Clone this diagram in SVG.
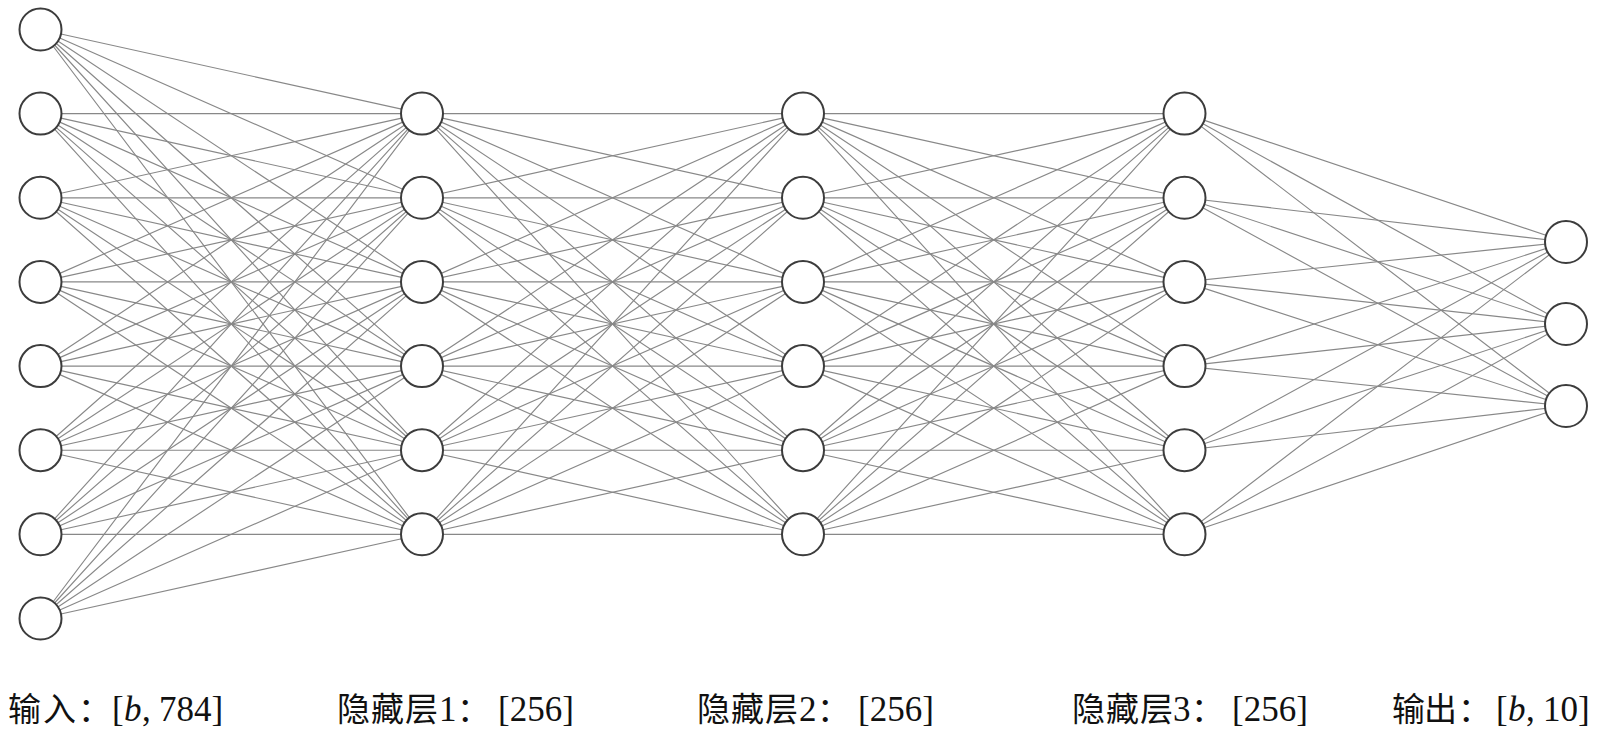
<svg xmlns="http://www.w3.org/2000/svg" width="1599" height="735" viewBox="0 0 1599 735">
  <style>
    .edge { fill: none; stroke: #888888; stroke-width: 1.15; }
    .neuron { fill: #ffffff; stroke: #3c3c3c; stroke-width: 2; }
    .cjk { font-family: "Noto Sans CJK SC", "Noto Sans CJK JP", sans-serif; font-size: 33px; fill: #111111; }
    .num { font-family: "Liberation Serif", "DejaVu Serif", serif; font-size: 35px; fill: #111111; }
    .var { font-style: italic; }
  </style>
  <rect x="0" y="0" width="1599" height="735" fill="#ffffff"/>

  <!-- Fully connected weights between consecutive layers -->
  <g id="connectors">
    <!-- input (8) to hidden layer 1 (6) -->
    <path class="edge" d="M40.5 29.5L422 113.6M40.5 29.5L422 197.8M40.5 29.5L422 281.9M40.5 29.5L422 366.1M40.5 29.5L422 450.2M40.5 29.5L422 534.3"/>
    <path class="edge" d="M40.5 113.6L422 113.6M40.5 113.6L422 197.8M40.5 113.6L422 281.9M40.5 113.6L422 366.1M40.5 113.6L422 450.2M40.5 113.6L422 534.3"/>
    <path class="edge" d="M40.5 197.8L422 113.6M40.5 197.8L422 197.8M40.5 197.8L422 281.9M40.5 197.8L422 366.1M40.5 197.8L422 450.2M40.5 197.8L422 534.3"/>
    <path class="edge" d="M40.5 281.9L422 113.6M40.5 281.9L422 197.8M40.5 281.9L422 281.9M40.5 281.9L422 366.1M40.5 281.9L422 450.2M40.5 281.9L422 534.3"/>
    <path class="edge" d="M40.5 366.1L422 113.6M40.5 366.1L422 197.8M40.5 366.1L422 281.9M40.5 366.1L422 366.1M40.5 366.1L422 450.2M40.5 366.1L422 534.3"/>
    <path class="edge" d="M40.5 450.2L422 113.6M40.5 450.2L422 197.8M40.5 450.2L422 281.9M40.5 450.2L422 366.1M40.5 450.2L422 450.2M40.5 450.2L422 534.3"/>
    <path class="edge" d="M40.5 534.3L422 113.6M40.5 534.3L422 197.8M40.5 534.3L422 281.9M40.5 534.3L422 366.1M40.5 534.3L422 450.2M40.5 534.3L422 534.3"/>
    <path class="edge" d="M40.5 618.5L422 113.6M40.5 618.5L422 197.8M40.5 618.5L422 281.9M40.5 618.5L422 366.1M40.5 618.5L422 450.2M40.5 618.5L422 534.3"/>

    <!-- hidden layer 1 to hidden layer 2 -->
    <path class="edge" d="M422 113.6L803 113.6M422 113.6L803 197.8M422 113.6L803 281.9M422 113.6L803 366.1M422 113.6L803 450.2M422 113.6L803 534.3"/>
    <path class="edge" d="M422 197.8L803 113.6M422 197.8L803 197.8M422 197.8L803 281.9M422 197.8L803 366.1M422 197.8L803 450.2M422 197.8L803 534.3"/>
    <path class="edge" d="M422 281.9L803 113.6M422 281.9L803 197.8M422 281.9L803 281.9M422 281.9L803 366.1M422 281.9L803 450.2M422 281.9L803 534.3"/>
    <path class="edge" d="M422 366.1L803 113.6M422 366.1L803 197.8M422 366.1L803 281.9M422 366.1L803 366.1M422 366.1L803 450.2M422 366.1L803 534.3"/>
    <path class="edge" d="M422 450.2L803 113.6M422 450.2L803 197.8M422 450.2L803 281.9M422 450.2L803 366.1M422 450.2L803 450.2M422 450.2L803 534.3"/>
    <path class="edge" d="M422 534.3L803 113.6M422 534.3L803 197.8M422 534.3L803 281.9M422 534.3L803 366.1M422 534.3L803 450.2M422 534.3L803 534.3"/>

    <!-- hidden layer 2 to hidden layer 3 -->
    <path class="edge" d="M803 113.6L1184.5 113.6M803 113.6L1184.5 197.8M803 113.6L1184.5 281.9M803 113.6L1184.5 366.1M803 113.6L1184.5 450.2M803 113.6L1184.5 534.3"/>
    <path class="edge" d="M803 197.8L1184.5 113.6M803 197.8L1184.5 197.8M803 197.8L1184.5 281.9M803 197.8L1184.5 366.1M803 197.8L1184.5 450.2M803 197.8L1184.5 534.3"/>
    <path class="edge" d="M803 281.9L1184.5 113.6M803 281.9L1184.5 197.8M803 281.9L1184.5 281.9M803 281.9L1184.5 366.1M803 281.9L1184.5 450.2M803 281.9L1184.5 534.3"/>
    <path class="edge" d="M803 366.1L1184.5 113.6M803 366.1L1184.5 197.8M803 366.1L1184.5 281.9M803 366.1L1184.5 366.1M803 366.1L1184.5 450.2M803 366.1L1184.5 534.3"/>
    <path class="edge" d="M803 450.2L1184.5 113.6M803 450.2L1184.5 197.8M803 450.2L1184.5 281.9M803 450.2L1184.5 366.1M803 450.2L1184.5 450.2M803 450.2L1184.5 534.3"/>
    <path class="edge" d="M803 534.3L1184.5 113.6M803 534.3L1184.5 197.8M803 534.3L1184.5 281.9M803 534.3L1184.5 366.1M803 534.3L1184.5 450.2M803 534.3L1184.5 534.3"/>

    <!-- hidden layer 3 to output (3) -->
    <path class="edge" d="M1184.5 113.6L1566 242M1184.5 113.6L1566 324M1184.5 113.6L1566 406"/>
    <path class="edge" d="M1184.5 197.8L1566 242M1184.5 197.8L1566 324M1184.5 197.8L1566 406"/>
    <path class="edge" d="M1184.5 281.9L1566 242M1184.5 281.9L1566 324M1184.5 281.9L1566 406"/>
    <path class="edge" d="M1184.5 366.1L1566 242M1184.5 366.1L1566 324M1184.5 366.1L1566 406"/>
    <path class="edge" d="M1184.5 450.2L1566 242M1184.5 450.2L1566 324M1184.5 450.2L1566 406"/>
    <path class="edge" d="M1184.5 534.3L1566 242M1184.5 534.3L1566 324M1184.5 534.3L1566 406"/>
  </g>

  <!-- Input layer -->
  <g id="in0"><circle class="neuron" cx="40.5" cy="29.5" r="21"/></g>
  <g id="in1"><circle class="neuron" cx="40.5" cy="113.6" r="21"/></g>
  <g id="in2"><circle class="neuron" cx="40.5" cy="197.8" r="21"/></g>
  <g id="in3"><circle class="neuron" cx="40.5" cy="281.9" r="21"/></g>
  <g id="in4"><circle class="neuron" cx="40.5" cy="366.1" r="21"/></g>
  <g id="in5"><circle class="neuron" cx="40.5" cy="450.2" r="21"/></g>
  <g id="in6"><circle class="neuron" cx="40.5" cy="534.3" r="21"/></g>
  <g id="in7"><circle class="neuron" cx="40.5" cy="618.5" r="21"/></g>

  <!-- Hidden layer 1 -->
  <g id="h1_0"><circle class="neuron" cx="422" cy="113.6" r="21"/></g>
  <g id="h1_1"><circle class="neuron" cx="422" cy="197.8" r="21"/></g>
  <g id="h1_2"><circle class="neuron" cx="422" cy="281.9" r="21"/></g>
  <g id="h1_3"><circle class="neuron" cx="422" cy="366.1" r="21"/></g>
  <g id="h1_4"><circle class="neuron" cx="422" cy="450.2" r="21"/></g>
  <g id="h1_5"><circle class="neuron" cx="422" cy="534.3" r="21"/></g>

  <!-- Hidden layer 2 -->
  <g id="h2_0"><circle class="neuron" cx="803" cy="113.6" r="21"/></g>
  <g id="h2_1"><circle class="neuron" cx="803" cy="197.8" r="21"/></g>
  <g id="h2_2"><circle class="neuron" cx="803" cy="281.9" r="21"/></g>
  <g id="h2_3"><circle class="neuron" cx="803" cy="366.1" r="21"/></g>
  <g id="h2_4"><circle class="neuron" cx="803" cy="450.2" r="21"/></g>
  <g id="h2_5"><circle class="neuron" cx="803" cy="534.3" r="21"/></g>

  <!-- Hidden layer 3 -->
  <g id="h3_0"><circle class="neuron" cx="1184.5" cy="113.6" r="21"/></g>
  <g id="h3_1"><circle class="neuron" cx="1184.5" cy="197.8" r="21"/></g>
  <g id="h3_2"><circle class="neuron" cx="1184.5" cy="281.9" r="21"/></g>
  <g id="h3_3"><circle class="neuron" cx="1184.5" cy="366.1" r="21"/></g>
  <g id="h3_4"><circle class="neuron" cx="1184.5" cy="450.2" r="21"/></g>
  <g id="h3_5"><circle class="neuron" cx="1184.5" cy="534.3" r="21"/></g>

  <!-- Output layer -->
  <g id="out0"><circle class="neuron" cx="1566" cy="242" r="21"/></g>
  <g id="out1"><circle class="neuron" cx="1566" cy="324" r="21"/></g>
  <g id="out2"><circle class="neuron" cx="1566" cy="406" r="21"/></g>

  <!-- Layer shape captions -->
  <g id="labels">
    <text y="721"><tspan class="cjk" x="8">输</tspan><tspan class="cjk" x="43">入</tspan><tspan class="cjk" x="78">：</tspan><tspan class="num" x="112">[</tspan><tspan class="num var" x="124">b</tspan><tspan class="num" x="142">,</tspan><tspan class="num" x="159">784]</tspan></text>
    <text y="721"><tspan class="cjk" x="337" letter-spacing="1">隐藏层</tspan><tspan class="num" x="439">1</tspan><tspan class="cjk" x="457">：</tspan><tspan class="num" x="498">[256]</tspan></text>
    <text y="721"><tspan class="cjk" x="697" letter-spacing="1">隐藏层</tspan><tspan class="num" x="799">2</tspan><tspan class="cjk" x="817">：</tspan><tspan class="num" x="858">[256]</tspan></text>
    <text y="721"><tspan class="cjk" x="1072" letter-spacing="1">隐藏层</tspan><tspan class="num" x="1173">3</tspan><tspan class="cjk" x="1191">：</tspan><tspan class="num" x="1232">[256]</tspan></text>
    <text y="721"><tspan class="cjk" x="1392">输</tspan><tspan class="cjk" x="1424">出</tspan><tspan class="cjk" x="1458">：</tspan><tspan class="num" x="1496">[</tspan><tspan class="num var" x="1508">b</tspan><tspan class="num" x="1526">,</tspan><tspan class="num" x="1543">10]</tspan></text>
  </g>
</svg>
